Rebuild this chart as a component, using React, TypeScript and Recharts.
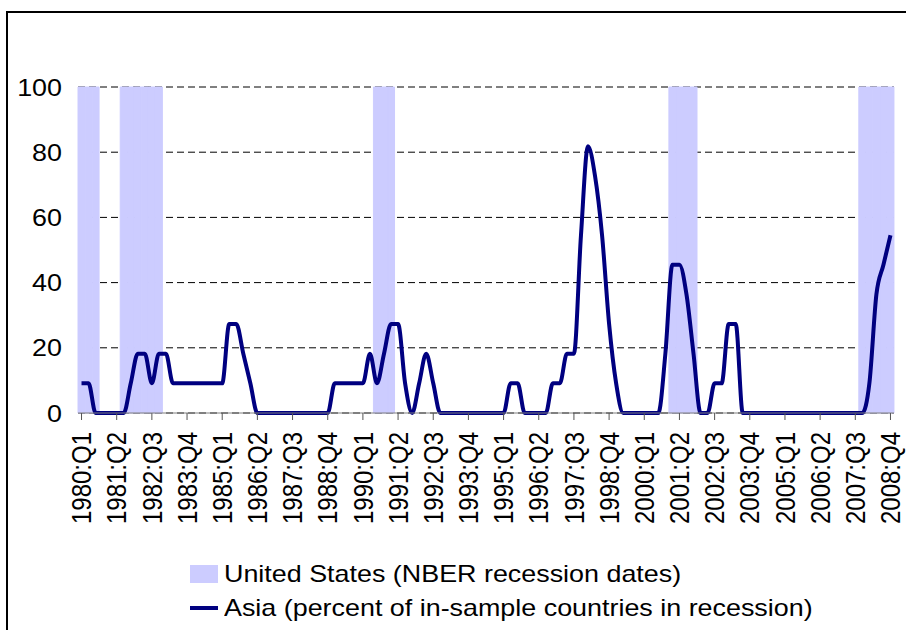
import { ComposedChart, Bar, Line, XAxis, YAxis, CartesianGrid, Legend } from "recharts"

const FONT = '"Liberation Sans", Arial, sans-serif'
const STRETCH = 1.12

const years = Array.from({ length: 29 }, (_, i) => 1980 + i)
const quarters = years.flatMap(y => [1, 2, 3, 4].map(q => `${y}:Q${q}`))

// Asia: percent of in-sample countries in recession, 1980:Q1 - 2008:Q4
const asia = [
  9.1, 9.1, 0, 0, 0, 0, 0, 9.1, 18.2, 18.2,
  9.1, 18.2, 18.2, 9.1, 9.1, 9.1, 9.1, 9.1, 9.1, 9.1,
  9.1, 27.3, 27.3, 18.2, 9.1, 0, 0, 0, 0, 0,
  0, 0, 0, 0, 0, 0, 9.1, 9.1, 9.1, 9.1,
  9.1, 18.2, 9.1, 18.2, 27.3, 27.3, 9.1, 0, 9.1, 18.2,
  9.1, 0, 0, 0, 0, 0, 0, 0, 0, 0,
  0, 9.1, 9.1, 0, 0, 0, 0, 9.1, 9.1, 18.2,
  18.2, 54.5, 81.8, 72.7, 54.5, 27.3, 9.1, 0, 0, 0,
  0, 0, 0, 18.2, 45.5, 45.5, 36.4, 18.2, 0, 0,
  9.1, 9.1, 27.3, 27.3, 0, 0, 0, 0, 0, 0,
  0, 0, 0, 0, 0, 0, 0, 0, 0, 0,
  0, 0, 9.1, 36.4, 45.5, 54.5,
]

// US NBER recessions (first and last quarter)
const recessions = [
  ["1980:Q1", "1980:Q3"],
  ["1981:Q3", "1982:Q4"],
  ["1990:Q3", "1991:Q1"],
  ["2001:Q1", "2001:Q4"],
  ["2007:Q4", "2008:Q4"],
]

const yTicks = [0, 20, 40, 60, 80, 100]

const data = quarters.map((q, i) => {
  const inRec = recessions.some(([a, b]) => i >= quarters.indexOf(a) && i <= quarters.indexOf(b))
  return { q, asia: asia[i], us: inRec ? 100 : null }
})

function QuarterTick({ x, y, payload }: any) {
  return (
    <text
      x={0}
      y={0}
      dy="0.36em"
      textAnchor="end"
      transform={`translate(${x},${y}) rotate(-90) scale(1,${STRETCH})`}
      fontSize={24}
      fontFamily={FONT}
      fill="#000"
    >
      {payload.value}
    </text>
  )
}

function ValueTick({ x, y, payload }: any) {
  return (
    <text
      x={0}
      y={0}
      dy="0.36em"
      textAnchor="end"
      transform={`translate(${x},${y}) scale(${STRETCH},1)`}
      fontSize={24}
      fontFamily={FONT}
      fill="#000"
    >
      {payload.value}
    </text>
  )
}

function LegendBox() {
  const text = { display: "inline-block", transform: `scaleX(${STRETCH})`, transformOrigin: "left center" }
  return (
    <div style={{ fontFamily: FONT, fontSize: 24, color: "#000", lineHeight: "34px", whiteSpace: "nowrap" }}>
      <div style={{ display: "flex", alignItems: "center" }}>
        <span style={{ display: "inline-block", width: 28, height: 18, background: "#CCCCFF", marginRight: 6 }} />
        <span style={text}>United States (NBER recession dates)</span>
      </div>
      <div style={{ display: "flex", alignItems: "center" }}>
        <span style={{ display: "inline-block", width: 28, height: 4, background: "#000080", marginRight: 6 }} />
        <span style={text}>Asia (percent of in-sample countries in recession)</span>
      </div>
    </div>
  )
}

export default function App() {
  return (
    <div style={{ position: "absolute", left: 0, top: 0, width: 906, height: 630, background: "#fff", fontFamily: FONT, overflow: "hidden" }}>
      <div style={{ position: "absolute", left: 6, top: 11, width: 920, height: 640, borderTop: "2px solid #000", borderLeft: "2px solid #000" }} />
      <ComposedChart
        width={906}
        height={630}
        data={data}
        margin={{ top: 87, right: 12, bottom: 0, left: 0 }}
        barCategoryGap={0}
        barGap={0}
      >
        <CartesianGrid vertical={false} stroke="#000" strokeDasharray="7 4" />
        <XAxis
          dataKey="q"
          interval={4}
          height={217}
          tickSize={7}
          tickMargin={12}
          axisLine={{ stroke: "#808080" }}
          tickLine={{ stroke: "#555" }}
          tick={<QuarterTick />}
        />
        <YAxis
          domain={[0, 100]}
          ticks={yTicks}
          width={78}
          axisLine={false}
          tickLine={false}
          tickMargin={10}
          tick={<ValueTick />}
        />
        <Legend
          layout="horizontal"
          verticalAlign="middle"
          align="center"
          wrapperStyle={{ left: 190, top: 557, width: "auto" }}
          content={() => <LegendBox />}
        />
        <Bar dataKey="us" fill="#CCCCFF" stroke="#CCCCFF" strokeWidth={1} isAnimationActive={false} />
        <Line
          type="monotone"
          dataKey="asia"
          stroke="#000080"
          strokeWidth={4}
          dot={false}
          activeDot={false}
          isAnimationActive={false}
        />
      </ComposedChart>
    </div>
  )
}
